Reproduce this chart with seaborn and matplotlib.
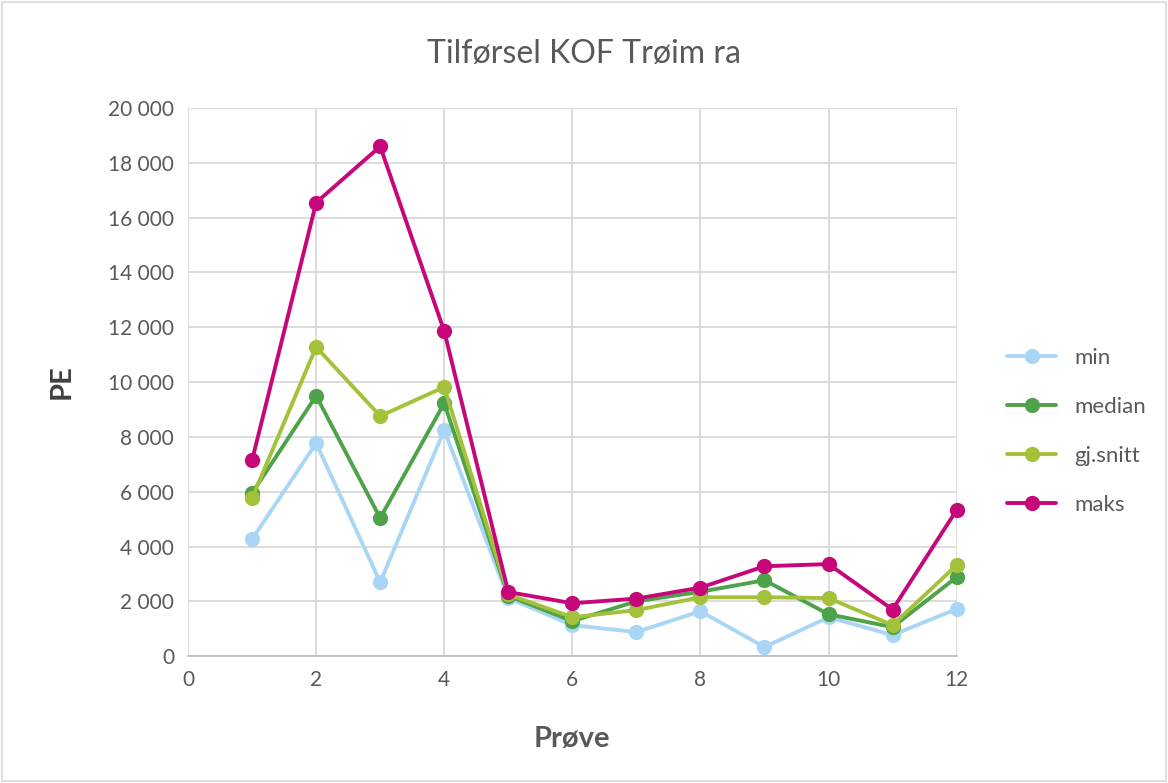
import pandas as pd
import seaborn as sns
import matplotlib.pyplot as plt
from matplotlib.ticker import FuncFormatter

# sample number 1..12
prove = [1, 2, 3, 4, 5, 6, 7, 8, 9, 10, 11, 12]
pe_min = [4270, 7770, 2700, 8250, 2120, 1130, 880, 1640, 330, 1420, 770, 1720]
pe_median = [5950, 9500, 5040, 9230, 2200, 1280, 2000, 2350, 2770, 1530, 1060, 2880]
pe_snitt = [5770, 11280, 8760, 9820, 2250, 1420, 1680, 2150, 2150, 2120, 1130, 3320]
pe_maks = [7150, 16550, 18600, 11860, 2340, 1930, 2100, 2500, 3280, 3360, 1700, 5330]

series = ["min", "median", "gj.snitt", "maks"]
colors = ["#A9D6F5", "#4EA24A", "#A3C13A", "#C6077A"]

df = pd.DataFrame({
    "Prøve": prove * 4,
    "PE": pe_min + pe_median + pe_snitt + pe_maks,
    "serie": sum([[s] * len(prove) for s in series], []),
})

sns.set_style("white")
plt.rcParams["font.family"] = ["Lato", "DejaVu Sans"]

fig = plt.figure(figsize=(11.68, 7.83), dpi=100)
ax = fig.add_axes([0.161, 0.162, 0.658, 0.700])

sns.lineplot(data=df, x="Prøve", y="PE", hue="serie", palette=colors,
             marker="o", markersize=11, markeredgewidth=0, linewidth=2.8,
             ax=ax, zorder=3)
for ln in ax.lines:
    ln.set_clip_on(False)

ax.set_xlim(0, 12)
ax.set_ylim(0, 20000)
ax.set_xticks(range(0, 13, 2))
ax.set_yticks(range(0, 20001, 2000))
ax.yaxis.set_major_formatter(FuncFormatter(lambda v, p: f"{int(v):,}".replace(",", " ")))
ax.grid(True, color="#D9D9D9", linewidth=1.3)
ax.set_axisbelow(True)
for side in ["top", "right", "left"]:
    ax.spines[side].set_visible(False)
ax.spines["bottom"].set_color("#BFBFBF")
ax.spines["bottom"].set_linewidth(1.3)
ax.tick_params(axis="both", length=0, labelsize=15, colors="#595959", pad=10)

ax.set_xlabel("Prøve", fontsize=21, fontweight="bold", color="#595959", labelpad=26)
ax.set_ylabel("PE", fontsize=21, fontweight="bold", color="#404040", labelpad=24)
fig.suptitle("Tilførsel KOF Trøim ra", fontsize=23, color="#595959", y=0.95)

leg = ax.legend(loc="center left", bbox_to_anchor=(1.04, 0.41), frameon=False,
                fontsize=16, labelspacing=1.3, handlelength=2.2)
for t in leg.get_texts():
    t.set_color("#595959")

# thin frame around the whole chart area
fig.patches.append(plt.Rectangle((0.002, 0.002), 0.996, 0.996, transform=fig.transFigure,
                                 fill=False, edgecolor="#D9D9D9", linewidth=1.2))

fig.savefig("out.png", dpi=100)
